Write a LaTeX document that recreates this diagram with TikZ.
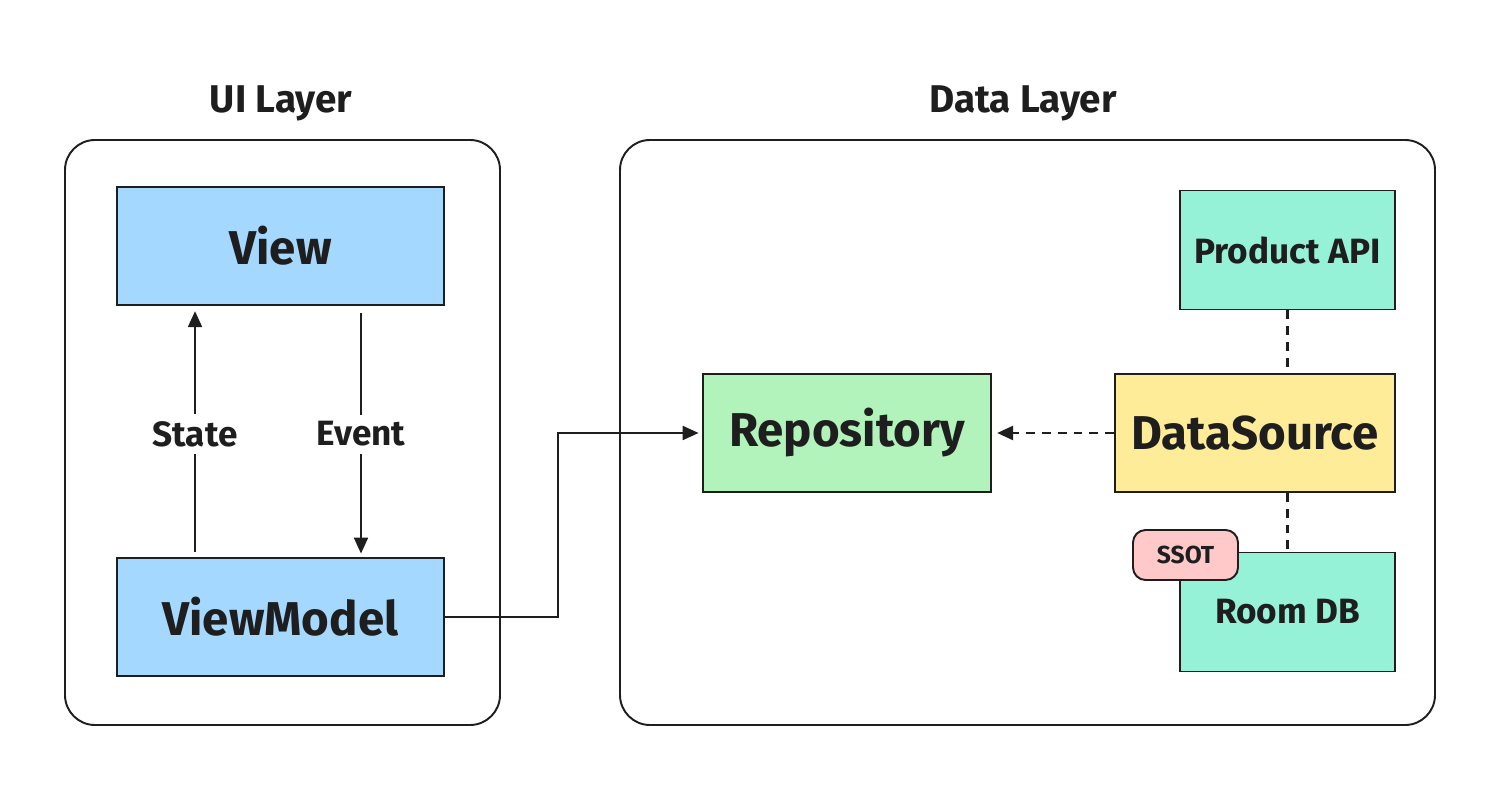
\documentclass[tikz,border=0pt]{standalone}
\usepackage{fontspec}
\setmainfont{Fira Sans}
\usepackage{tikz}
\usetikzlibrary{arrows.meta,positioning}
\definecolor{viewblue}{HTML}{A5D8FF}
\definecolor{repogreen}{HTML}{B2F2BB}
\definecolor{srcyellow}{HTML}{FFEC99}
\definecolor{apimint}{HTML}{96F2D7}
\definecolor{tagpink}{HTML}{FFC9C9}
\definecolor{ink}{HTML}{1E1E1E}
\tikzstyle{layerbox} = [draw=ink, line width=1.1pt, rounded corners=0.6cm]
\tikzstyle{layertitle} = [font=\fontsize{22}{26}\selectfont\bfseries, text=ink]
\tikzstyle{bigbox} = [draw=ink, line width=1.1pt, rectangle, inner xsep=2pt,
    minimum height=2.36cm, font=\fontsize{27}{32}\selectfont\bfseries, text=ink]
\tikzstyle{smallbox} = [draw=ink, line width=1.1pt, rectangle, fill=apimint,
    minimum width=4.3cm, minimum height=2.38cm, font=\fontsize{20}{24}\selectfont\bfseries, text=ink]
\tikzstyle{flowlabel} = [fill=white, inner sep=4pt, font=\fontsize{20}{24}\selectfont\bfseries, text=ink]
\tikzstyle{link} = [draw=ink, line width=0.9pt, -{Triangle[length=9pt,width=8pt]}]
\tikzstyle{dashlink} = [draw=ink, line width=1.2pt, dash pattern=on 5pt off 4pt]

\begin{document}
\begin{tikzpicture}[x=0.02cm, y=-0.02cm]
    \useasboundingbox (0,0) rectangle (1500,800);

    % layers
    \draw[layerbox] (65,140) rectangle (500,725);
    \draw[layerbox] (620,140) rectangle (1435,725);
    \node[layertitle] (uititle) at (281,103) {UI Layer};
    \node[layertitle] (datatitle) at (1023,103) {Data Layer};

    % ui layer
    \node[bigbox, fill=viewblue, minimum width=6.54cm] (view) at (280.5,246) {View};
    \node[bigbox, fill=viewblue, minimum width=6.54cm] (viewmodel) at (280.5,617) {ViewModel};

    % data layer
    \node[bigbox, fill=repogreen, minimum width=5.76cm] (repository) at (847,433) {Repository};
    \node[bigbox, fill=srcyellow, minimum width=5.6cm] (datasource) at (1255,433) {DataSource};
    \node[smallbox] (productapi) at (1287.5,250) {Product API};
    \node[smallbox] (roomdb) at (1287.5,612) {Room DB};
    \node[draw=ink, line width=1.1pt, fill=tagpink, rounded corners=0.25cm,
        minimum width=2.1cm, minimum height=1cm,
        font=\fontsize{14}{16}\selectfont\bfseries, text=ink] (ssot) at (1185.5,555) {SSOT};

    % state / event
    \draw[link, shorten <=3pt, shorten >=3pt] ([xshift=-1.71cm]viewmodel.north) -- ([xshift=-1.71cm]view.south)
        node[flowlabel, pos=0.49] (state) {State};
    \draw[link, shorten <=4pt, shorten >=2pt] ([xshift=1.61cm]view.south) -- ([xshift=1.61cm]viewmodel.north)
        node[flowlabel, pos=0.51] (event) {Event};

    % viewmodel to repository
    \draw[link, shorten >=2pt] (viewmodel.east) -- ++(113,0) |- (repository.west);

    % sources
    \draw[link, dashlink, shorten >=3pt] (datasource.west) -- (repository.east);
    \draw[dashlink] (productapi.south) -- (productapi.south |- datasource.north);
    \draw[dashlink] (roomdb.north |- datasource.south) -- (roomdb.north);
\end{tikzpicture}
\end{document}
